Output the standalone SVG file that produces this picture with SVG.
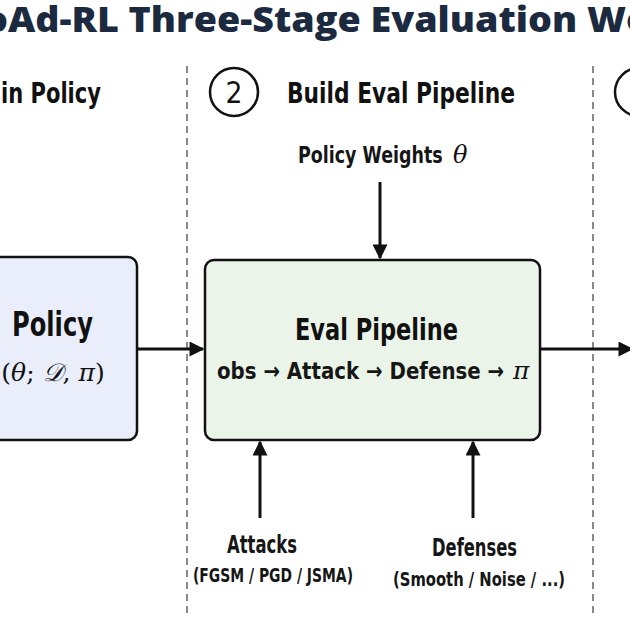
<svg xmlns="http://www.w3.org/2000/svg" width="630" height="630" viewBox="0 0 630 630">
<defs>
<style>
.title{font-family:"Open Sans","Liberation Sans",sans-serif;font-weight:800;font-size:36px;fill:#1b2a3f}
.hdr{font-family:"DejaVu Sans",sans-serif;font-weight:bold;font-size:29px;fill:#111}
.lbl{font-family:"DejaVu Sans",sans-serif;font-weight:bold;fill:#111}
.sub{font-family:"DejaVu Sans",sans-serif;font-weight:bold;fill:#161616}
.math{font-family:"DejaVu Serif","Liberation Serif",serif;fill:#111;font-weight:normal}
.dash{stroke:#8a8a8a;stroke-width:2;stroke-dasharray:7 5;fill:none}
.box{stroke:#111;stroke-width:2.5}
.conn{stroke:#111;stroke-width:3;fill:none}
</style>
<marker id="ah" viewBox="0 0 10 10" refX="9" refY="5" markerWidth="5.5" markerHeight="5" orient="auto" markerUnits="strokeWidth">
<path d="M0,0 L10,5 L0,10 z" fill="#111"/>
</marker>
</defs>
<rect width="630" height="630" fill="#ffffff"/>
<text class="title" x="-16" y="32" textLength="666" lengthAdjust="spacingAndGlyphs">oAd-RL Three-Stage Evaluation Wo</text>

<line class="dash" x1="187" y1="66" x2="187" y2="616"/>
<line class="dash" x1="593" y1="66" x2="593" y2="616"/>

<g id="stage1-header">
<text class="hdr" x="1" y="103" textLength="100" lengthAdjust="spacingAndGlyphs">in Policy</text>
</g>
<g id="stage2-header">
<circle cx="234" cy="92" r="24" fill="#fff" stroke="#111" stroke-width="2.5"/>
<text x="234" y="103" text-anchor="middle" font-family="DejaVu Sans, sans-serif" font-size="31" fill="#111" textLength="17" lengthAdjust="spacingAndGlyphs">2</text>
<text class="hdr" x="287" y="103" textLength="228" lengthAdjust="spacingAndGlyphs">Build Eval Pipeline</text>
</g>
<g id="stage3-header">
<circle cx="639" cy="92" r="24" fill="#fff" stroke="#111" stroke-width="2.5"/>
</g>

<g id="policy">
<rect class="box" x="-12" y="257" width="149" height="183" rx="9" fill="#e9eefa"/>
<text class="lbl" x="12" y="336" font-size="34" textLength="81" lengthAdjust="spacingAndGlyphs">Policy</text>
<text class="math" x="53" y="381" text-anchor="middle" font-size="25">(<tspan font-style="italic">θ</tspan>; <tspan font-style="italic">𝒟</tspan>, <tspan font-style="italic">π</tspan>)</text>
</g>

<g id="eval-pipeline">
<rect class="box" x="205" y="260" width="335" height="180" rx="9" fill="#eaf4e8"/>
<text class="lbl" x="295" y="340" font-size="30" textLength="163" lengthAdjust="spacingAndGlyphs">Eval Pipeline</text>
<text class="sub" transform="translate(217,379) scale(0.86,1)" x="0" y="0" font-size="23">obs → Attack → Defense →</text>
<text class="math" x="513" y="379" font-style="italic" font-size="25">π</text>
</g>

<g id="policy-weights">
<text class="sub" transform="translate(298,163) scale(0.76,1)" x="0" y="0" font-size="23">Policy Weights</text>
<text class="math" x="453" y="163" font-style="italic" font-size="24">θ</text>
</g>
<g id="attacks">
<text class="sub" x="227" y="553" font-size="24" textLength="70" lengthAdjust="spacingAndGlyphs">Attacks</text>
<text class="sub" x="193" y="582" font-size="19" textLength="160" lengthAdjust="spacingAndGlyphs">(FGSM / PGD / JSMA)</text>
</g>
<g id="defenses">
<text class="sub" x="432" y="556" font-size="24" textLength="85" lengthAdjust="spacingAndGlyphs">Defenses</text>
<text class="sub" x="393" y="586" font-size="19" textLength="172" lengthAdjust="spacingAndGlyphs">(Smooth / Noise / ...)</text>
</g>

<g id="connectors">
<line class="conn" x1="137" y1="349" x2="203" y2="349" marker-end="url(#ah)"/>
<line class="conn" x1="540" y1="349" x2="632" y2="349" marker-end="url(#ah)"/>
<line class="conn" x1="380" y1="182" x2="380" y2="258" marker-end="url(#ah)"/>
<line class="conn" x1="260" y1="518" x2="260" y2="442" marker-end="url(#ah)"/>
<line class="conn" x1="473" y1="518" x2="473" y2="442" marker-end="url(#ah)"/>
</g>
</svg>
